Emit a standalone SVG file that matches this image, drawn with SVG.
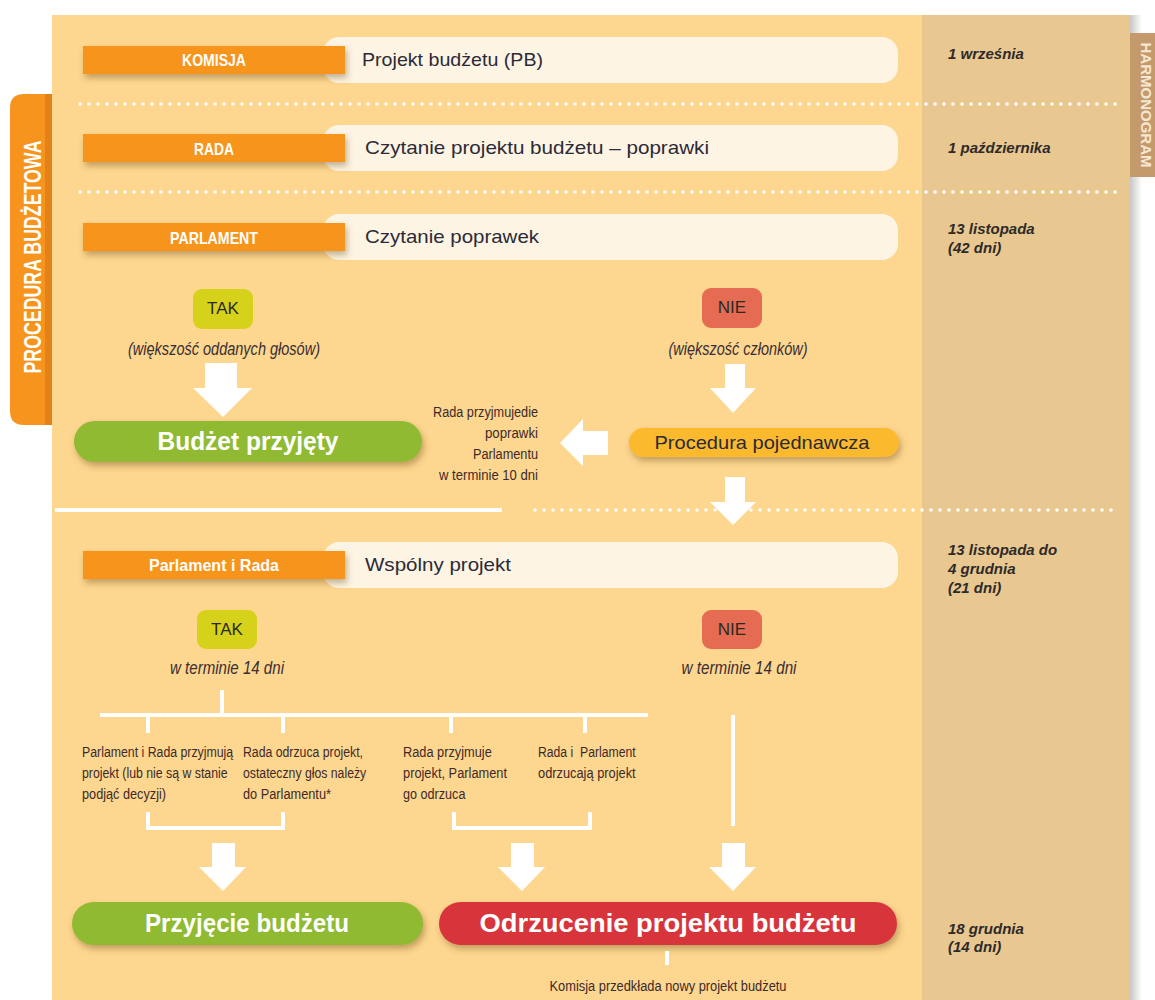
<svg xmlns="http://www.w3.org/2000/svg" width="1155" height="1000" viewBox="0 0 1155 1000">
<defs>
<style>
.lbl{fill:#f7941d}
.lbltxt{font-family:"Liberation Sans",Arial,sans-serif;font-weight:bold;font-size:17px;fill:#fff;text-anchor:middle}
.pill{fill:#fdf4e3}
.pilltxt{font-family:"Liberation Sans",Arial,sans-serif;font-size:19px;fill:#2b2a38}
.date{font-family:"Liberation Sans",Arial,sans-serif;font-weight:bold;font-style:italic;font-size:15px;fill:#2e2a2a}
.it{font-family:"Liberation Sans",Arial,sans-serif;font-style:italic;font-size:17.5px;fill:#3a2e34;text-anchor:middle}
.sm{font-family:"Liberation Sans",Arial,sans-serif;font-size:15.5px;fill:#3d2a2a}
.big{font-family:"Liberation Sans",Arial,sans-serif;font-weight:bold;font-size:26px;fill:#fff;text-anchor:middle}
.yn{font-family:"Liberation Sans",Arial,sans-serif;font-size:17px;fill:#2b2a22;text-anchor:middle}
.dots{stroke:#fff;stroke-width:3.5;stroke-linecap:round;stroke-dasharray:0 9;fill:none}
.ln{stroke:#fff;stroke-width:4;fill:none}
.arr{fill:#fff}
</style>
<filter id="sh" x="-10%" y="-40%" width="125%" height="200%">
<feDropShadow dx="2" dy="4" stdDeviation="3" flood-color="#6b4a1a" flood-opacity="0.4"/>
</filter>
<linearGradient id="edge" x1="0" y1="0" x2="1" y2="0">
<stop offset="0" stop-color="#000" stop-opacity="0.22"/>
<stop offset="1" stop-color="#000" stop-opacity="0"/>
</linearGradient>
</defs>
<rect x="0" y="0" width="1155" height="1000" fill="#fff"/>
<!-- page -->
<rect x="52" y="15" width="870" height="985" fill="#fdd68f"/>
<rect x="922" y="15" width="208" height="985" fill="#e8c890"/>
<rect x="1130" y="15" width="12" height="985" fill="url(#edge)"/>
<!-- side tabs -->
<g id="tab-procedura">
<path d="M52,94 H24 Q10,94 10,108 V411 Q10,425 24,425 H52 Z" fill="#f7941d"/>
<rect x="45" y="94" width="7" height="331" fill="#e3821a"/>
<text transform="translate(41,257) rotate(-90)" font-family="'Liberation Sans',Arial,sans-serif" font-weight="bold" font-size="24" fill="#fff" text-anchor="middle" textLength="233" lengthAdjust="spacingAndGlyphs">PROCEDURA BUDŻETOWA</text>
</g>
<g id="tab-harmonogram">
<rect x="1130" y="33" width="25" height="144" fill="#c49a6c"/>
<text transform="translate(1141,105) rotate(90)" font-family="'Liberation Sans',Arial,sans-serif" font-weight="bold" font-size="15" fill="#f6e7d2" text-anchor="middle" textLength="125" lengthAdjust="spacingAndGlyphs">HARMONOGRAM</text>
</g>
<!-- separators -->
<g id="separators">
<line class="dots" x1="80" y1="104" x2="1118" y2="104"/>
<line class="dots" x1="80" y1="192" x2="1118" y2="192"/>
<line x1="55" y1="510" x2="502" y2="510" stroke="#fff" stroke-width="4"/>
<line class="dots" x1="535" y1="510" x2="1118" y2="510"/>
</g>
<!-- rows -->
<g id="row-komisja">
<rect class="pill" x="323" y="37" width="575" height="46" rx="16"/>
<rect class="lbl" x="83" y="46" width="262" height="28" filter="url(#sh)"/>
<text class="lbltxt" x="214" y="66" textLength="64" lengthAdjust="spacingAndGlyphs">KOMISJA</text>
<text class="pilltxt" x="362" y="66" textLength="181" lengthAdjust="spacingAndGlyphs">Projekt budżetu (PB)</text>
</g>
<g id="row-rada">
<rect class="pill" x="323" y="125" width="575" height="46" rx="16"/>
<rect class="lbl" x="83" y="134" width="262" height="28" filter="url(#sh)"/>
<text class="lbltxt" x="214" y="154.5" textLength="40" lengthAdjust="spacingAndGlyphs">RADA</text>
<text class="pilltxt" x="365" y="154" textLength="344" lengthAdjust="spacingAndGlyphs">Czytanie projektu budżetu – poprawki</text>
</g>
<g id="row-parlament">
<rect class="pill" x="323" y="214" width="575" height="46" rx="16"/>
<rect class="lbl" x="83" y="223" width="262" height="28" filter="url(#sh)"/>
<text class="lbltxt" x="214" y="243.5" textLength="88" lengthAdjust="spacingAndGlyphs">PARLAMENT</text>
<text class="pilltxt" x="365" y="243" textLength="174" lengthAdjust="spacingAndGlyphs">Czytanie poprawek</text>
</g>
<g id="row-wspolny">
<rect class="pill" x="323" y="542" width="575" height="46" rx="16"/>
<rect class="lbl" x="83" y="551" width="262" height="28" filter="url(#sh)"/>
<text class="lbltxt" x="214" y="571" textLength="130" lengthAdjust="spacingAndGlyphs">Parlament i Rada</text>
<text class="pilltxt" x="365" y="571" textLength="146" lengthAdjust="spacingAndGlyphs">Wspólny projekt</text>
</g>
<!-- dates -->
<g id="dates">
<text class="date" x="948" y="59">1 września</text>
<text class="date" x="948" y="153">1 października</text>
<text class="date" x="948" y="234">13 listopada</text>
<text class="date" x="948" y="253">(42 dni)</text>
<text class="date" x="948" y="555">13 listopada do</text>
<text class="date" x="948" y="574">4 grudnia</text>
<text class="date" x="948" y="593">(21 dni)</text>
<text class="date" x="948" y="934">18 grudnia</text>
<text class="date" x="948" y="952">(14 dni)</text>
</g>
<!-- first vote -->
<g id="tak1">
<rect x="193" y="289" width="60" height="40" rx="9" fill="#d6d21b"/>
<text class="yn" x="223" y="314">TAK</text>
<text class="it" x="224" y="355" textLength="192" lengthAdjust="spacingAndGlyphs">(większość oddanych głosów)</text>
</g>
<g id="nie1">
<rect x="702" y="288" width="60" height="40" rx="9" fill="#e56b52"/>
<text class="yn" x="732" y="313">NIE</text>
<text class="it" x="738" y="355" textLength="139" lengthAdjust="spacingAndGlyphs">(większość członków)</text>
</g>
<g id="budzet-przyjety">
<rect x="74" y="421" width="348" height="41" rx="20.5" fill="#8fba33" filter="url(#sh)"/>
<text class="big" x="248" y="450" font-size="25" textLength="181" lengthAdjust="spacingAndGlyphs">Budżet przyjęty</text>
</g>
<g id="procedura-pojednawcza">
<rect x="629" y="428" width="270" height="29" rx="14.5" fill="#fbb92f" filter="url(#sh)"/>
<text class="pilltxt" x="762" y="449" text-anchor="middle" textLength="215" lengthAdjust="spacingAndGlyphs">Procedura pojednawcza</text>
</g>
<g id="note-rada" class="sm" text-anchor="end">
<text x="538" y="417" textLength="105" lengthAdjust="spacingAndGlyphs">Rada przyjmujedie</text>
<text x="538" y="438" textLength="53" lengthAdjust="spacingAndGlyphs">poprawki</text>
<text x="538" y="459" textLength="65" lengthAdjust="spacingAndGlyphs">Parlamentu</text>
<text x="538" y="480" textLength="99" lengthAdjust="spacingAndGlyphs">w terminie 10 dni</text>
</g>
<!-- second vote -->
<g id="tak2">
<rect x="197" y="610" width="60" height="39" rx="9" fill="#d6d21b"/>
<text class="yn" x="227" y="635">TAK</text>
<text class="it" x="227" y="674" textLength="114" lengthAdjust="spacingAndGlyphs">w terminie 14 dni</text>
</g>
<g id="nie2">
<rect x="702" y="610" width="60" height="39" rx="9" fill="#e56b52"/>
<text class="yn" x="732" y="635">NIE</text>
<text class="it" x="739" y="674" textLength="115" lengthAdjust="spacingAndGlyphs">w terminie 14 dni</text>
</g>
<g id="case1" class="sm" transform="translate(82,0) scale(0.8,1)">
<text x="0" y="757" textLength="189" lengthAdjust="spacingAndGlyphs">Parlament i Rada przyjmują</text>
<text x="0" y="778" textLength="182" lengthAdjust="spacingAndGlyphs">projekt (lub nie są w stanie</text>
<text x="0" y="799" textLength="105" lengthAdjust="spacingAndGlyphs">podjąć decyzji)</text>
</g>
<g id="case2" class="sm" transform="translate(243,0) scale(0.8,1)">
<text x="0" y="757" textLength="150" lengthAdjust="spacingAndGlyphs">Rada odrzuca projekt,</text>
<text x="0" y="778" textLength="154" lengthAdjust="spacingAndGlyphs">ostateczny głos należy</text>
<text x="0" y="799" textLength="110" lengthAdjust="spacingAndGlyphs">do Parlamentu*</text>
</g>
<g id="case3" class="sm" transform="translate(403,0) scale(0.8,1)">
<text x="0" y="757" textLength="111" lengthAdjust="spacingAndGlyphs">Rada przyjmuje</text>
<text x="0" y="778" textLength="130" lengthAdjust="spacingAndGlyphs">projekt, Parlament</text>
<text x="0" y="799" textLength="78" lengthAdjust="spacingAndGlyphs">go odrzuca</text>
</g>
<g id="case4" class="sm" transform="translate(538,0) scale(0.8,1)">
<text x="0" y="757" textLength="122" lengthAdjust="spacingAndGlyphs" xml:space="preserve">Rada i  Parlament</text>
<text x="0" y="778" textLength="122" lengthAdjust="spacingAndGlyphs">odrzucają projekt</text>
</g>
<g id="przyjecie-budzetu">
<rect x="72" y="902" width="351" height="43" rx="21.5" fill="#8fba33" filter="url(#sh)"/>
<text class="big" x="247" y="932" textLength="204" lengthAdjust="spacingAndGlyphs">Przyjęcie budżetu</text>
</g>
<g id="odrzucenie">
<rect x="439" y="902" width="458" height="43" rx="21.5" fill="#d7353a" filter="url(#sh)"/>
<text class="big" x="668" y="932" textLength="377" lengthAdjust="spacingAndGlyphs">Odrzucenie projektu budżetu</text>
</g>
<g id="komisja-nowy">
<text class="sm" x="668" y="991" text-anchor="middle" font-size="14.5" textLength="237" lengthAdjust="spacingAndGlyphs">Komisja przedkłada nowy projekt budżetu</text>
</g>
<!-- connectors -->
<g id="connectors">
<polygon class="arr" points="205,363 237,363 237,388 252,388 223,417 193,388 205,388"/>
<polygon class="arr" points="725,364 745,364 745,388 756,388 733,413 710,388 725,388"/>
<polygon class="arr" points="608,431 608,455 583,455 583,466 560,443 583,419 583,431"/>
<polygon class="arr" points="725,477 745,477 745,502 756,502 733,525 710,502 725,502"/>
<path class="ln" d="M222,690 V715 M100,715 H648 M148,715 V733 M283,715 V733 M451,715 V733 M585,715 V733"/>
<path class="ln" d="M148,812 V828 H283 V812"/>
<path class="ln" d="M454,812 V828 H590 V812"/>
<path class="ln" d="M733,715 V826"/>
<polygon class="arr" points="212,843 235,843 235,867 246,867 223,891 199,867 212,867"/>
<polygon class="arr" points="511,843 534,843 534,867 545,867 522,891 498,867 511,867"/>
<polygon class="arr" points="722,843 745,843 745,867 756,867 733,891 709,867 722,867"/>
<path class="ln" d="M667,951 V965"/>
</g>
</svg>
